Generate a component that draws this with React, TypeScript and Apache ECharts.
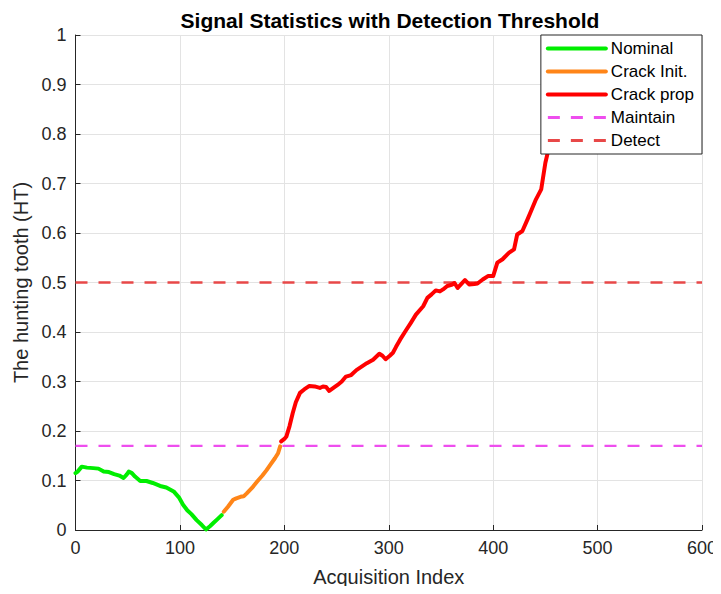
import React, { useEffect, useRef } from "react";
import * as echarts from "echarts";

const titleText = "Signal Statistics with Detection Threshold";
const xAxisName = "Acquisition Index";
const yAxisName = "The hunting tooth (HT)";

const nominalIdx = [0, 2, 6, 11, 17, 22, 27, 32, 37, 42, 46, 49, 51, 54, 57, 62, 68, 74, 81, 87, 94, 99, 103, 107, 111, 116, 121, 125, 129, 132, 136, 140];
const nominalVal = [0.115, 0.118, 0.128, 0.126, 0.125, 0.124, 0.118, 0.117, 0.113, 0.11, 0.105, 0.112, 0.118, 0.115, 0.108, 0.099, 0.099, 0.095, 0.089, 0.086, 0.078, 0.066, 0.051, 0.04, 0.032, 0.02, 0.01, 0.001, 0.008, 0.014, 0.022, 0.03];

const initIdx = [142, 146, 151, 154, 158, 161, 164, 169, 174, 179, 183, 187, 191, 194, 196];
const initVal = [0.037, 0.047, 0.061, 0.064, 0.067, 0.068, 0.074, 0.085, 0.098, 0.11, 0.121, 0.133, 0.145, 0.155, 0.169];

const propIdx = [197, 200, 202, 205, 208, 211, 215, 219, 224, 229, 234, 237, 240, 243, 247, 251, 255, 259, 264, 269, 274, 279, 285, 291, 294, 297, 301, 304, 307, 311, 317, 321, 326, 333, 337, 341, 345, 349, 352, 356, 361, 363, 366, 370, 373, 377, 382, 385, 390, 395, 400, 404, 409, 415, 420, 423, 428, 433, 437, 441, 446, 450, 453, 457, 461, 465, 469];
const propVal = [0.179, 0.184, 0.189, 0.21, 0.236, 0.258, 0.277, 0.284, 0.291, 0.29, 0.287, 0.29, 0.289, 0.281, 0.287, 0.293, 0.3, 0.31, 0.313, 0.323, 0.33, 0.337, 0.344, 0.356, 0.352, 0.345, 0.352, 0.358, 0.37, 0.385, 0.405, 0.418, 0.435, 0.452, 0.469, 0.476, 0.484, 0.482, 0.486, 0.493, 0.496, 0.499, 0.489, 0.498, 0.505, 0.496, 0.497, 0.498, 0.506, 0.513, 0.513, 0.54, 0.547, 0.56, 0.567, 0.597, 0.604, 0.628, 0.648, 0.668, 0.688, 0.742, 0.769, 0.81, 0.86, 0.91, 0.96];

const maintainLevel = 0.17;
const detectLevel = 0.5;
const xRange = [0, 600];
const legendNames = ["Nominal", "Crack Init.", "Crack prop", "Maintain", "Detect"];

const zip = (a: number[], b: number[]) => a.map((v, i) => [v, b[i]]);

const FONT = "'Liberation Sans', Arial, Helvetica, sans-serif";

export default function App() {
  const ref = useRef<HTMLDivElement>(null);
  useEffect(() => {
    if (!ref.current) return;
    const chart = echarts.init(ref.current, undefined, { renderer: "svg" });
    const curveLine = (name: string, color: string, data: number[][]) => ({
      name,
      type: "line",
      data,
      symbol: "none",
      showSymbol: false,
      lineStyle: { color, width: 4, cap: "round", join: "round" },
      itemStyle: { color },
      z: 3,
    });
    const hLine = (name: string, color: string, level: number) => ({
      name,
      type: "line",
      data: [[xRange[0], level], [xRange[1], level]],
      symbol: "none",
      showSymbol: false,
      lineStyle: { color, width: 2.4, type: [12, 11] },
      itemStyle: { color },
      z: 2,
    });
    chart.setOption({
      animation: false,
      textStyle: { fontFamily: FONT },
      grid: { left: 75.5, right: 19, top: 35, bottom: 64, containLabel: false },
      graphic: [
        {
          type: "text",
          x: 390,
          y: 20,
          style: {
            text: titleText,
            textAlign: "center",
            textVerticalAlign: "middle",
            font: `bold 21px ${FONT}`,
            fill: "#000",
          },
        },
      ],
      legend: {
        orient: "vertical",
        right: 19,
        top: 35,
        padding: [5, 8, 5, 5],
        itemWidth: 58,
        itemHeight: 14,
        itemGap: 6,
        backgroundColor: "#fff",
        borderColor: "#262626",
        borderWidth: 1,
        borderRadius: 0,
        itemStyle: { opacity: 0 },
        textStyle: { fontSize: 17, color: "#000", fontFamily: FONT },
        data: legendNames.map((n, i) => ({
          name: n,
          lineStyle: { width: i < 3 ? 4 : 3 },
        })),
        selectedMode: false,
      },
      xAxis: {
        type: "value",
        min: xRange[0],
        max: xRange[1],
        interval: 100,
        name: xAxisName,
        nameLocation: "middle",
        nameGap: 37,
        nameTextStyle: { fontSize: 20, color: "#262626", fontFamily: FONT },
        axisLine: { show: true, onZero: false, lineStyle: { color: "#262626", width: 1 } },
        axisTick: { show: true, inside: true, length: 5, lineStyle: { color: "#262626" } },
        axisLabel: { fontSize: 18, color: "#262626", margin: 9, fontFamily: FONT },
        splitLine: { show: true, lineStyle: { color: "#e3e3e3", width: 1 } },
      },
      yAxis: {
        type: "value",
        min: 0,
        max: 1,
        interval: 0.1,
        name: yAxisName,
        nameLocation: "middle",
        nameGap: 39,
        nameTextStyle: { fontSize: 20, color: "#262626", fontFamily: FONT },
        axisLine: { show: true, onZero: false, lineStyle: { color: "#262626", width: 1 } },
        axisTick: { show: true, inside: true, length: 5, lineStyle: { color: "#262626" } },
        axisLabel: {
          fontSize: 18,
          color: "#262626",
          margin: 9,
          fontFamily: FONT,
          formatter: (v: number) => String(Math.round(v * 10) / 10),
        },
        splitLine: { show: true, lineStyle: { color: "#e3e3e3", width: 1 } },
      },
      series: [
        curveLine("Nominal", "#00ee00", zip(nominalIdx, nominalVal)),
        curveLine("Crack Init.", "#ff8518", zip(initIdx, initVal)),
        curveLine("Crack prop", "#ff0000", zip(propIdx, propVal)),
        hLine("Maintain", "#ee4eee", maintainLevel),
        hLine("Detect", "#e84848", detectLevel),
      ],
    });
    return () => chart.dispose();
  }, []);
  return <div ref={ref} style={{ width: 721, height: 594, margin: -8 }} />;
}
